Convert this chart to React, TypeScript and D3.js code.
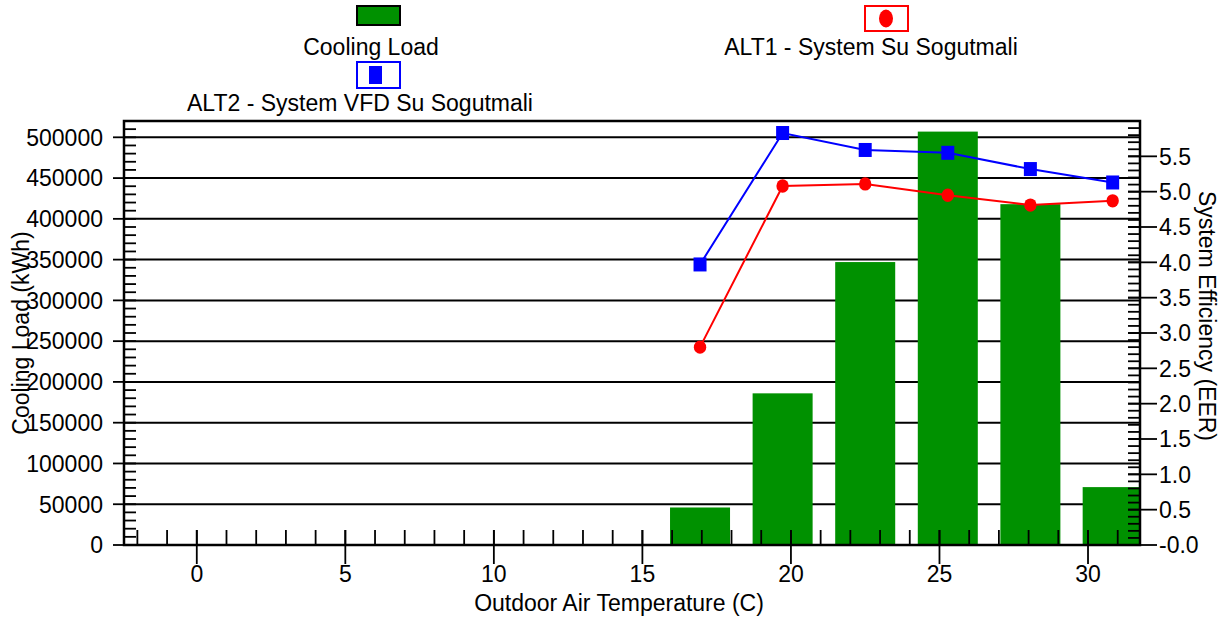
import React from "react";
import * as d3 from "d3";

// Outdoor temperature bins (°C) – centres of 5 °F bins
const temperatures = [16.94, 19.72, 22.5, 25.28, 28.06, 30.83];
// Cooling load per bin (kWh)
const coolingLoad = [46000, 186000, 347000, 507000, 418000, 71000];
// System efficiency (EER) per bin
const alt1EER = [2.8, 5.08, 5.11, 4.95, 4.81, 4.87];
const alt2EER = [3.97, 5.83, 5.59, 5.55, 5.32, 5.13];

const xTickValues = [0, 5, 10, 15, 20, 25, 30];
const loadTickValues = [0, 50000, 100000, 150000, 200000, 250000, 300000, 350000, 400000, 450000, 500000];
const eerTickValues = [0, 0.5, 1, 1.5, 2, 2.5, 3, 3.5, 4, 4.5, 5, 5.5];
const eerTickLabels = ["-0.0", "0.5", "1.0", "1.5", "2.0", "2.5", "3.0", "3.5", "4.0", "4.5", "5.0", "5.5"];

const seriesNames = ["Cooling Load", "ALT1 - System Su Sogutmali", "ALT2 - System VFD Su Sogutmali"];

const W = 1227;
const H = 621;
const L = 124;
const R = 1140;
const T = 121;
const B = 545;
const FONT = "'Liberation Sans', Arial, sans-serif";
const FS = 23;
const GREEN = "#009100";

export default function App() {
  const x = d3.scaleLinear().domain([-2.45, 31.75]).range([L, R]);
  const yLoad = d3.scaleLinear().domain([0, 520000]).range([B, T]);
  const yEER = d3.scaleLinear().domain([0, 6]).range([B, T]);
  const barW = x(2.02) - x(0);

  const minorX = d3.range(-2, 32, 1);
  const minorLoad = d3.range(0, 520001, 10000);
  const minorEER = d3.range(0, 60, 1).map((d) => d / 10);

  const eerLine = d3
    .line<number>()
    .x((_, i) => x(temperatures[i]))
    .y((d) => yEER(d));

  return (
    <svg
      width={W}
      height={H}
      style={{ position: "absolute", left: 0, top: 0, background: "#fff" }}
      fontFamily={FONT}
    >
      <defs>
        <clipPath id="plotClip">
          <rect x={L} y={T} width={R - L} height={B - T} />
        </clipPath>
      </defs>

      {/* horizontal grid at load ticks */}
      {loadTickValues.slice(1).map((v) => (
        <line key={"g" + v} x1={L} x2={R} y1={yLoad(v)} y2={yLoad(v)} stroke="#000" strokeWidth={2} />
      ))}

      {/* cooling load bars */}
      <g clipPath="url(#plotClip)">
        {coolingLoad.map((v, i) => (
          <rect
            key={"b" + i}
            x={x(temperatures[i]) - barW / 2}
            y={yLoad(v)}
            width={barW}
            height={B - yLoad(v)}
            fill={GREEN}
          />
        ))}
      </g>

      {/* frame */}
      <rect x={L} y={T} width={R - L} height={B - T} fill="none" stroke="#000" strokeWidth={2.5} />

      {/* bottom axis ticks */}
      {minorX.map((v) => (
        <line key={"xm" + v} x1={x(v)} x2={x(v)} y1={B} y2={B - 15} stroke="#000" strokeWidth={1.8} />
      ))}
      {xTickValues.map((v) => (
        <g key={"xt" + v}>
          <line x1={x(v)} x2={x(v)} y1={B - 15} y2={B + 19} stroke="#000" strokeWidth={1.8} />
          <text x={x(v)} y={582} fontSize={FS} textAnchor="middle">
            {v}
          </text>
        </g>
      ))}

      {/* left axis ticks */}
      {minorLoad.map((v) => (
        <line key={"lm" + v} x1={L} x2={L + 12} y1={yLoad(v)} y2={yLoad(v)} stroke="#000" strokeWidth={1.8} />
      ))}
      {loadTickValues.map((v) => (
        <g key={"lt" + v}>
          <line x1={L - 11} x2={L} y1={yLoad(v)} y2={yLoad(v)} stroke="#000" strokeWidth={1.8} />
          <text x={103} y={yLoad(v)} dy="0.36em" fontSize={FS} textAnchor="end">
            {v}
          </text>
        </g>
      ))}

      {/* right axis ticks */}
      {minorEER.map((v) => (
        <line key={"rm" + v} x1={R - 12} x2={R} y1={yEER(v)} y2={yEER(v)} stroke="#000" strokeWidth={1.8} />
      ))}
      {eerTickValues.map((v, i) => (
        <g key={"rt" + v}>
          <line x1={R - 12} x2={R + 17} y1={yEER(v)} y2={yEER(v)} stroke="#000" strokeWidth={1.8} />
          <text x={1159} y={yEER(v)} dy="0.36em" fontSize={FS} textAnchor="start">
            {eerTickLabels[i]}
          </text>
        </g>
      ))}

      {/* EER series */}
      <path d={eerLine(alt2EER) || ""} fill="none" stroke="#0000ff" strokeWidth={2} />
      <path d={eerLine(alt1EER) || ""} fill="none" stroke="#ff0000" strokeWidth={2} />
      {alt2EER.map((v, i) => (
        <rect key={"s" + i} x={x(temperatures[i]) - 6.5} y={yEER(v) - 7} width={13} height={14} fill="#0000ff" />
      ))}
      {alt1EER.map((v, i) => (
        <ellipse key={"c" + i} cx={x(temperatures[i])} cy={yEER(v)} rx={6.2} ry={6.7} fill="#ff0000" />
      ))}

      {/* axis titles */}
      <text x={619} y={611} fontSize={FS} textAnchor="middle">
        Outdoor Air Temperature (C)
      </text>
      <text transform={`translate(29,${(T + B) / 2}) rotate(-90)`} fontSize={FS} textAnchor="middle">
        Cooling Load (kWh)
      </text>
      <text transform={`translate(1199,316) rotate(90)`} fontSize={FS} textAnchor="middle">
        System Efficiency (EER)
      </text>

      {/* legend */}
      <rect x={357} y={6} width={43} height={19} fill={GREEN} stroke="#000" strokeWidth={2} />
      <text x={371} y={55} fontSize={FS} textAnchor="middle">
        {seriesNames[0]}
      </text>
      <rect x={865} y={6} width={43} height={25} fill="#fff" stroke="#ff0000" strokeWidth={2} />
      <ellipse cx={886} cy={18.5} rx={7} ry={9} fill="#ff0000" />
      <text x={871} y={55} fontSize={FS} textAnchor="middle">
        {seriesNames[1]}
      </text>
      <rect x={357} y={62} width={43} height={26} fill="#fff" stroke="#0000ff" strokeWidth={2} />
      <rect x={369} y={66} width={13} height={18} fill="#0000ff" />
      <text x={360} y={111} fontSize={FS} textAnchor="middle">
        {seriesNames[2]}
      </text>
    </svg>
  );
}
